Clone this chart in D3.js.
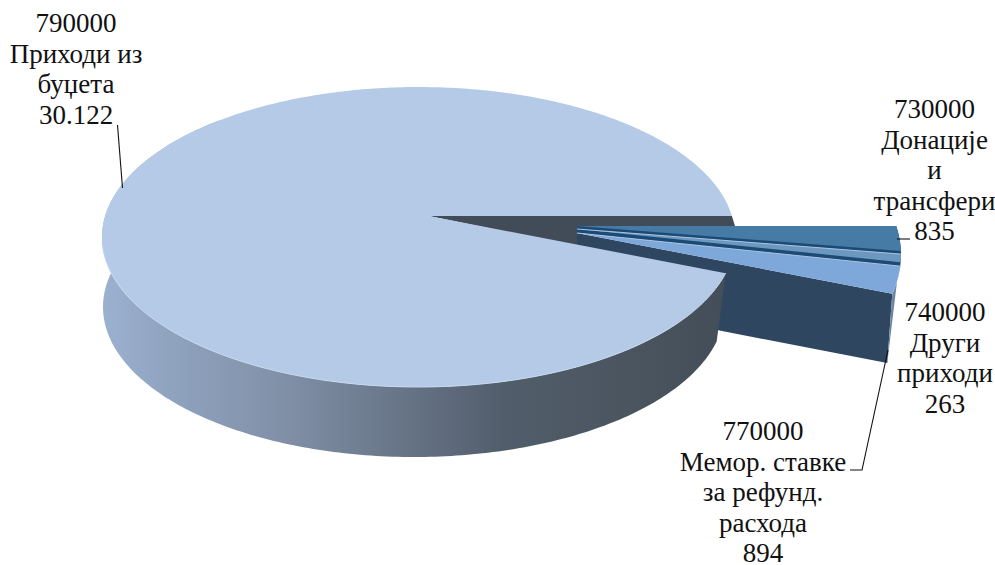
<!DOCTYPE html>
<html><head><meta charset="utf-8">
<script src="https://cdn.jsdelivr.net/npm/d3@7"></script>
<style>html,body{margin:0;padding:0;background:#fff}svg{display:block}text{font-family:"Liberation Serif",serif;font-size:27px;fill:#111}</style>
</head><body><svg width="995" height="565"></svg>
<script>
const codes=["730000","740000","770000","790000"];
const names=[["Донације","и","трансфери"],["Други","приходи"],["Мемор. ставке","за рефунд.","расхода"],["Приходи из","буџета"]];
const valueLabels=["835","263","894","30.122"];
const values=[835,263,894,30122];
const topColors=["#467ba6","#6c98c0","#7ea8da","#b5cae6"];
const labelAnchors=[[934.5,118],[945,321],[763,440],[76,32]];
const leaders=[[[897,239],[910,239]],[[888,350],[862,470],[850,470]],[[117.5,125],[122.5,188]]];

const svg=d3.select("svg");
const pie=d3.pie().value(d=>d).sort(null).startAngle(Math.PI/2).endAngle(Math.PI*2.5);
const arcs=pie(values);

// projection of the tilted disc
const A=313,B=147;
const topE={cx:418.5,cy:237,rx:316.5,ry:150};
const botE={cx:414,cy:307,rx:311,ry:150};
function rim(apex,E,a){ // ray from apex, in the direction of pie angle a, hits ellipse E
  const dx=A*Math.sin(a),dy=-B*Math.cos(a);
  const ox=(apex[0]-E.cx)/E.rx,oy=(apex[1]-E.cy)/E.ry,ux=dx/E.rx,uy=dy/E.ry;
  const qa=ux*ux+uy*uy,qb=2*(ox*ux+oy*uy),qc=ox*ox+oy*oy-1;
  const t=(-qb+Math.sqrt(qb*qb-4*qa*qc))/(2*qa);
  return [apex[0]+t*dx,apex[1]+t*dy];
}
function rimPath(apex,E,a0,a1,n=160){
  return d3.range(n+1).map(i=>rim(apex,E,a0+(a1-a0)*i/n));
}
const line=d3.line();
const defs=svg.append("defs");
const g=defs.append("linearGradient").attr("id","wall").attr("gradientUnits","userSpaceOnUse")
 .attr("x1",103).attr("x2",722).attr("y1",0).attr("y2",0);
[[0,"#9cb1d0"],[.1,"#90a4c0"],[.3,"#808fa6"],[.48,"#687588"],[.65,"#525d6b"],[.85,"#4a5560"],[1,"#444e59"]]
 .forEach(s=>g.append("stop").attr("offset",s[0]).attr("stop-color",s[1]));

const mainApex=[429,216], mainApexB=[429,286];
const main=arcs[3];
const topRim=rimPath(mainApex,topE,main.startAngle,main.endAngle,400);
const botRim=rimPath(mainApexB,botE,main.startAngle,main.endAngle,400);

// exploded slices: each has its own apex
const exApex=[[577,226],[577,229],[577,233]];
const E2={cx:571,cy:255,rx:330,ry:170};
const ex=arcs.slice(0,3);
const wallEnd=rim(exApex[2],E2,ex[2].endAngle);
const wallBase=[wallEnd[0]-5,363];
// cut wall of the exploded group
svg.append("path").attr("fill","#2f4661")
 .attr("d",line([exApex[2],wallEnd,wallBase,[722,331],[577,300]])+"Z");
// narrow outer wall of the last exploded slice
const sliver=rimPath(exApex[2],E2,ex[2].endAngle,ex[2].endAngle-0.08,8);
svg.append("path").attr("fill","#6d87a2")
 .attr("d",line([...sliver,wallBase])+"Z");
// fan backing, seen as the dark seams between slices
svg.append("path").attr("fill","#1d4a74")
 .attr("d",line([exApex[0],...rimPath(exApex[0],E2,ex[0].startAngle,ex[1].endAngle,16),rim(exApex[2],E2,ex[2].startAngle+0.01),exApex[2]])+"Z");
ex.forEach((d,i)=>{
  const pts=rimPath(exApex[i],E2,d.startAngle,d.endAngle,24);
  svg.append("path").attr("fill",topColors[i]).attr("d",line([exApex[i],...pts])+"Z");
  // pale highlight on the upper edge of each lower slice
  if(i>0) svg.append("path").attr("fill","none").attr("stroke","#a9c6e2").attr("stroke-width",1)
    .attr("d",line([exApex[i],pts[0]]));
});
// cut wall of the main slice seen in the gap
svg.append("path").attr("fill","#414c58")
 .attr("d",line([mainApex,topRim[topRim.length-1],[735,226],[577,226],[577,246]])+"Z");
// outer wall of the main slice
svg.append("path").attr("fill","url(#wall)")
 .attr("d",line(topRim.slice(0,240).concat(botRim.slice(0,240).reverse()))+"Z");
// main top
svg.append("path").attr("fill",topColors[3]).attr("d",line([mainApex,...topRim])+"Z");
svg.append("path").attr("fill","none").attr("stroke","#c6d8ee").attr("stroke-width",1)
 .attr("d",line(topRim.slice(0,240).filter(p=>p[1]>=245)));

leaders.forEach(l=>svg.append("path").attr("fill","none").attr("stroke","#111").attr("stroke-width",1.1).attr("d",line(l)));
const lh=30.6;
codes.forEach((c,i)=>{
  const lines=[c,...names[i],valueLabels[i]];
  const t=svg.append("text").attr("text-anchor","middle");
  lines.forEach((s,j)=>t.append("tspan").attr("x",labelAnchors[i][0]).attr("y",labelAnchors[i][1]+j*lh).text(s));
});
</script></body></html>
